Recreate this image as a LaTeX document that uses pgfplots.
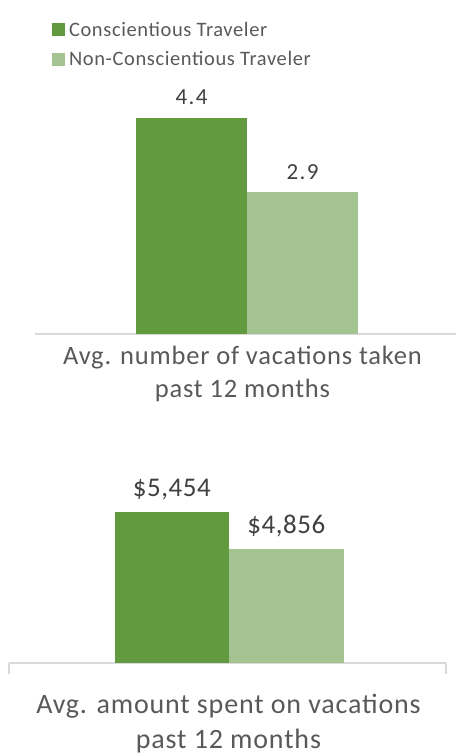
\documentclass[border=0pt]{standalone}
\usepackage{pgfplots}
\pgfplotsset{compat=1.18}
\usepackage{fontspec}
\setmainfont{Carlito}
\newfontfamily\legfont[LetterSpace=3]{Carlito}
\newfontfamily\catfont[LetterSpace=3]{Carlito}
\newfontfamily\valAfont[LetterSpace=6]{Carlito}
\newfontfamily\valBfont[LetterSpace=2]{Carlito}
\definecolor{dkg}{HTML}{629A3F}
\definecolor{ltg}{HTML}{A3C490}
\definecolor{txt}{HTML}{595959}
\definecolor{val}{HTML}{404040}
\definecolor{axl}{HTML}{D9D9D9}
\begin{document}
\begin{tikzpicture}[x=1pt,y=1pt]
\useasboundingbox (0,0) rectangle (456,756);
% ---------- Panel 1 ----------
\begin{axis}[
  at={(35pt,422pt)}, anchor=south west, scale only axis,
  width=421pt, height=294.5pt,
  xmin=-212, xmax=209, ymin=0, ymax=6,
  ybar=0pt, bar width=111,
  axis x line*=bottom, axis y line=none,
  x axis line style={draw=axl, line width=1.3pt, -},
  xtick=\empty, ytick=\empty,
  clip=false,
  nodes near coords={\pgfmathprintnumber[assume math mode=true]{\pgfplotspointmeta}},
  nodes near coords style={font=\valAfont\fontsize{23}{27}\selectfont, text=val, anchor=base, inner sep=0pt},
  legend style={draw=none, fill=none, at={(axis description cs:0.04,1.067)}, anchor=north west,
    font=\legfont\fontsize{20.5}{24}\selectfont, text=txt, inner sep=0pt, row sep=10pt, column sep=2pt,
    nodes={inner sep=2pt}},
  legend cell align=left,
  legend image code/.code={\fill[#1,draw=none] (0pt,-6.5pt) rectangle (13pt,6.5pt);},
]
\addplot[fill=dkg, draw=none, every node near coord/.append style={yshift=14pt}] coordinates {(0,4.4)};
\addlegendentry{Conscientious Traveler}
\addplot[fill=ltg, draw=none, every node near coord/.append style={yshift=12pt}] coordinates {(0,2.9)};
\addlegendentry{Non-Conscientious Traveler}
\node[font=\catfont\fontsize{26.5}{32}\selectfont, text=txt, anchor=base, inner sep=0pt, yshift=-31pt] at (axis cs:-4.5,0) {Avg. number of vacations taken};
\node[font=\catfont\fontsize{26.5}{32}\selectfont, text=txt, anchor=base, inner sep=0pt, yshift=-64pt] at (axis cs:-4.5,0) {past 12 months};
\end{axis}
% ---------- Panel 2 ----------
\begin{axis}[
  at={(9pt,93pt)}, anchor=south west, scale only axis,
  width=437pt, height=184.6pt,
  xmin=-220, xmax=217, ymin=3000, ymax=6000,
  ybar=0pt, bar width=114.5,
  axis x line*=bottom, axis y line=none,
  x axis line style={draw=axl, line width=1.3pt, -},
  xtick={-220,217}, xticklabels={}, ytick=\empty,
  tick style={draw=axl, line width=1.3pt}, major tick length=11pt, tick align=outside,
  clip=false,
  nodes near coords={\$\pgfmathprintnumber[assume math mode=true, 1000 sep={,}]{\pgfplotspointmeta}},
  nodes near coords style={font=\valBfont\fontsize{27}{32}\selectfont, text=val, anchor=base, inner sep=0pt},
]
\addplot[fill=dkg, draw=none, every node near coord/.append style={yshift=15pt}] coordinates {(0,5454)};
\addplot[fill=ltg, draw=none, every node near coord/.append style={yshift=15pt}] coordinates {(0,4856)};
\node[font=\catfont\fontsize{28}{34}\selectfont, text=txt, anchor=base, inner sep=0pt, yshift=-50pt] at (axis cs:-0.5,3000) {Avg. amount spent on vacations};
\node[font=\catfont\fontsize{28}{34}\selectfont, text=txt, anchor=base, inner sep=0pt, yshift=-85pt] at (axis cs:-0.5,3000) {past 12 months};
\end{axis}
\end{tikzpicture}
\end{document}
